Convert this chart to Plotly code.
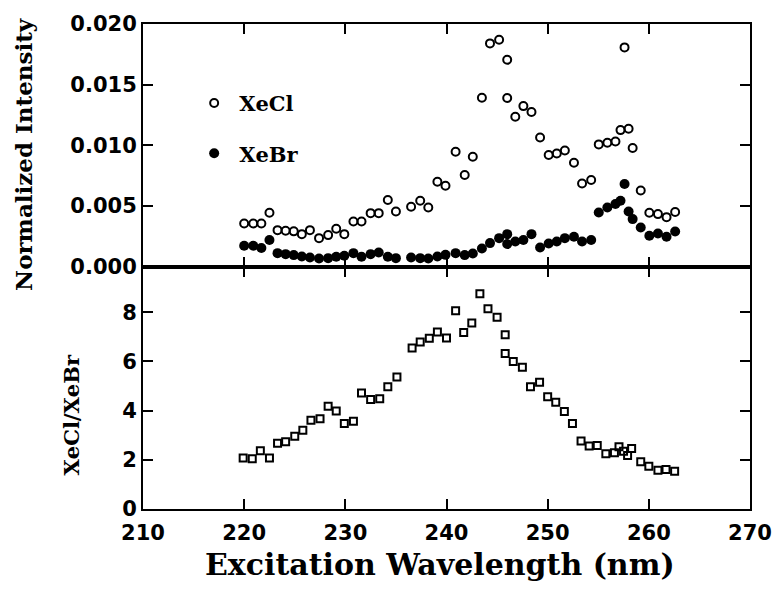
import plotly.graph_objects as go
from plotly.subplots import make_subplots

# ---- data ----
wl_top = [220.0, 220.9, 221.7, 222.5, 223.3, 224.1, 224.9, 225.7, 226.5, 227.4,
          228.3, 229.1, 229.9, 230.8, 231.6, 232.5, 233.3, 234.2, 235.0, 236.5,
          237.4, 238.2, 239.1, 239.9, 240.9, 241.8, 242.6, 243.5, 244.3, 245.2,
          246.0, 246.0, 246.8, 247.6, 248.4, 249.25, 250.1, 250.9, 251.7, 252.6,
          253.4, 254.3, 255.05, 255.9, 256.7, 257.2, 257.6, 258.0, 258.4, 259.2,
          260.05, 260.9, 261.75, 262.6]
xecl = [0.00355, 0.00355, 0.00355, 0.00443, 0.0030, 0.00295, 0.0029, 0.00267, 0.0030, 0.00234,
        0.00259, 0.00311, 0.00267, 0.00371, 0.00371, 0.0044, 0.0044, 0.00548, 0.00454, 0.00493,
        0.00542, 0.00487, 0.00699, 0.00666, 0.00946, 0.00754, 0.00905, 0.01392, 0.0184, 0.0187,
        0.01705, 0.0139, 0.01235, 0.01323, 0.01274, 0.01064, 0.00919, 0.00932, 0.00957, 0.00855,
        0.00685, 0.00713, 0.01007, 0.0102, 0.01031, 0.01125, 0.01807, 0.01136, 0.00977, 0.00627,
        0.00443, 0.00432, 0.00407, 0.00449]
xebr = [0.00171, 0.00171, 0.00152, 0.00218, 0.0011, 0.00102, 0.00094, 0.00083, 0.00074, 0.00066,
        0.00069, 0.0008, 0.00088, 0.0011, 0.0008, 0.00102, 0.00116, 0.0008, 0.00069, 0.00074,
        0.00069, 0.00066, 0.00083, 0.00096, 0.0011, 0.00094, 0.00107, 0.00149, 0.00193, 0.00234,
        0.00267, 0.00185, 0.00206, 0.00218, 0.00267, 0.00157, 0.0019, 0.00206, 0.00234, 0.00245,
        0.00206, 0.00218, 0.00446, 0.00487, 0.00515, 0.00542, 0.0068, 0.00454, 0.00391, 0.00322,
        0.00253, 0.00272, 0.00245, 0.00289]

wl_ratio = [219.9, 220.8, 221.6, 222.5, 223.3, 224.1, 225.0, 225.8, 226.6, 227.5,
            228.3, 229.1, 229.9, 230.8, 231.6, 232.5, 233.4, 234.2, 235.1, 236.6,
            237.4, 238.3, 239.1, 240.0, 240.9, 241.7, 242.5, 243.3, 244.1, 245.0,
            245.8, 245.8, 246.6, 247.5, 248.3, 249.2, 250.0, 250.8, 251.65, 252.45,
            253.3, 254.1, 254.9, 255.75, 256.6, 257.05, 257.5, 257.9, 258.3, 259.2,
            260.0, 260.9, 261.7, 262.55]
ratio = [2.07, 2.04, 2.37, 2.07, 2.67, 2.73, 2.96, 3.2, 3.61, 3.67,
         4.18, 3.98, 3.48, 3.57, 4.72, 4.45, 4.48, 4.97, 5.37, 6.55,
         6.79, 6.94, 7.2, 6.95, 8.06, 7.18, 7.56, 8.75, 8.14, 7.8,
         7.09, 6.32, 6.0, 5.76, 4.97, 5.15, 4.56, 4.34, 3.96, 3.48,
         2.76, 2.56, 2.58, 2.25, 2.29, 2.53, 2.35, 2.18, 2.46, 1.92,
         1.74, 1.58, 1.61, 1.53]

x_ticks = [210, 220, 230, 240, 250, 260, 270]
top_ticks = [0.000, 0.005, 0.010, 0.015, 0.020]
bot_ticks = [0, 2, 4, 6, 8]

TITLE_FONT = "DejaVu Serif"
TICK_FONT = "DejaVu Sans"

fig = make_subplots(rows=2, cols=1, shared_xaxes=False, vertical_spacing=0)

fig.add_trace(go.Scatter(x=wl_top, y=xecl, mode="markers", name="XeCl",
                         legendgroup="a",
                         marker=dict(symbol="circle-open", size=8, color="black",
                                     line=dict(width=2, color="black"))), row=1, col=1)
fig.add_trace(go.Scatter(x=wl_top, y=xebr, mode="markers", name="XeBr",
                         legendgroup="b",
                         marker=dict(symbol="circle", size=10, color="black")), row=1, col=1)
fig.add_trace(go.Scatter(x=wl_ratio, y=ratio, mode="markers", name="ratio",
                         showlegend=False,
                         marker=dict(symbol="square-open", size=7, color="black",
                                     line=dict(width=2, color="black"))), row=2, col=1)

axis_common = dict(showline=True, linewidth=2, linecolor="black", mirror="allticks",
                   ticks="inside", ticklen=10, tickwidth=2, tickcolor="black",
                   showgrid=False, zeroline=False,
                   tickfont=dict(family=TICK_FONT, size=21, color="black", weight="bold"))

fig.update_xaxes(range=[210, 270], tickvals=x_ticks, **axis_common)
fig.update_xaxes(showticklabels=False, row=1, col=1)
fig.update_xaxes(ticklabelstandoff=4, row=2, col=1)
fig.update_yaxes(range=[0, 0.020], tickvals=top_ticks, tickformat=".3f", row=1, col=1, **axis_common)
fig.update_yaxes(range=[0, 9.86], tickvals=bot_ticks, row=2, col=1, **axis_common)
fig.update_layout(yaxis=dict(domain=[0.5, 1.0]), yaxis2=dict(domain=[0.0, 0.5]))

L, R, T, B = 143, 23, 23, 82
W, H = 784, 591
pw, ph = W - L - R, H - T - B

def px_x(px):
    return (px - L) / pw

def px_y(py):
    return (H - B - py) / ph

def title(text, cx, cy, size, angle=0):
    fig.add_annotation(text=f"<b>{text}</b>", xref="paper", yref="paper",
                       x=px_x(cx), y=px_y(cy), xanchor="center", yanchor="middle",
                       showarrow=False, textangle=angle,
                       font=dict(family=TITLE_FONT, size=size, color="black"))

title("Normalized Intensity", 22, 154, 23, -90)
title("XeCl/XeBr", 70, 415, 21, -90)
title("Excitation Wavelength (nm)", 445, 565, 30)

fig.update_layout(
    width=W, height=H,
    margin=dict(l=L, r=R, t=T, b=B),
    paper_bgcolor="white", plot_bgcolor="white",
    showlegend=True,
    legend=dict(x=px_x(190), y=px_y(82), xanchor="left", yanchor="top",
                traceorder="grouped", tracegroupgap=20, itemwidth=40,
                bgcolor="rgba(0,0,0,0)", borderwidth=0,
                font=dict(family=TITLE_FONT, size=21, color="black", weight="bold")),
)

fig.write_html("out.html")
